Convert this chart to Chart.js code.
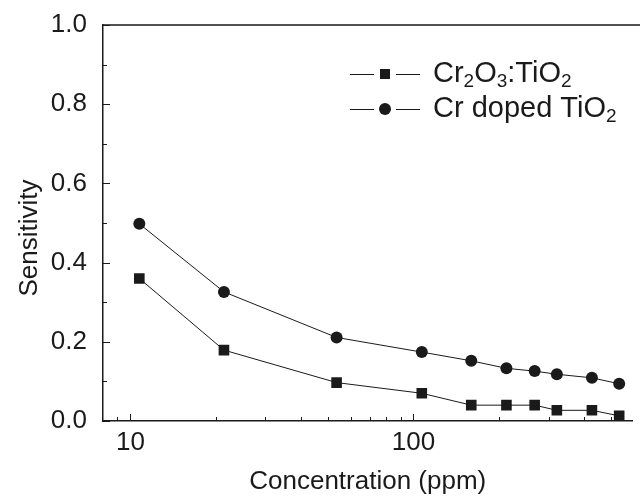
<!DOCTYPE html>
<html>
<head>
<meta charset="utf-8">
<script src="https://cdn.jsdelivr.net/npm/chart.js@4.4.1/dist/chart.umd.min.js"></script>
<style>
  html, body { margin: 0; padding: 0; background: #fff; }
  #wrap { width: 640px; height: 501px; position: relative; }
</style>
</head>
<body>
<div id="wrap"><canvas id="myChart" width="640" height="501"></canvas></div>
<script>
// concentrations (ppm), as placed on the plot
const concentration = [10.75, 21.4, 53.5, 107, 160, 213, 268, 321, 427, 533];
// sensitivity values
const cr2o3Tio2 = [0.360, 0.179, 0.097, 0.070, 0.040, 0.040, 0.040, 0.027, 0.027, 0.013];
const crDopedTio2 = [0.498, 0.326, 0.211, 0.174, 0.152, 0.133, 0.126, 0.118, 0.109, 0.094];
const xTickLabels = [10, 100];
const xMinorTicks = [9, 20, 30, 40, 50, 60, 70, 80, 90, 200, 300, 400, 500];
const yTickLabels = [0, 0.2, 0.4, 0.6, 0.8, 1.0];
const yMinorTicks = [0.1, 0.3, 0.5, 0.7, 0.9];

const FONT = "'Liberation Sans', Arial, Helvetica, sans-serif";
const INK = "#1a1a1a";

// inward ticks, top frame line and the y title
const frameTicks = {
    id: "frameTicks",
    afterDraw(chart) {
        const ctx = chart.ctx;
        const a = chart.chartArea;
        const xs = chart.scales.x, ys = chart.scales.y;
        ctx.save();
        ctx.strokeStyle = INK;
        ctx.lineWidth = 1.5;
        ctx.beginPath();
        ctx.moveTo(a.left, a.top);
        ctx.lineTo(chart.width, a.top);
        ctx.stroke();
        ctx.lineWidth = 1;
        const tick = (x1, y1, x2, y2) => { ctx.beginPath(); ctx.moveTo(x1, y1); ctx.lineTo(x2, y2); ctx.stroke(); };
        xTickLabels.forEach(v => { const p = Math.round(xs.getPixelForValue(v)) + 0.5; tick(p, a.bottom, p, a.bottom - 7); });
        xMinorTicks.forEach(v => { const p = Math.round(xs.getPixelForValue(v)) + 0.5; tick(p, a.bottom, p, a.bottom - 4); });
        yTickLabels.forEach(v => { const p = Math.round(ys.getPixelForValue(v)) + 0.5; tick(a.left, p, a.left + 7, p); });
        yMinorTicks.forEach(v => { const p = Math.round(ys.getPixelForValue(v)) + 0.5; tick(a.left, p, a.left + 4, p); });

        // y axis title, a bit below the middle like the original
        ctx.translate(30, 238);
        ctx.rotate(-Math.PI / 2);
        ctx.fillStyle = INK;
        ctx.font = "26px " + FONT;
        ctx.textAlign = "center";
        ctx.textBaseline = "middle";
        ctx.fillText("Sensitivity", 0, 0);
        ctx.restore();
    }
};

// legend with subscripts in the labels
const subLegend = {
    id: "subLegend",
    afterDraw(chart) {
        const ctx = chart.ctx;
        const rows = [
            {y: 74, marker: "rect", parts: [["Cr", 0], ["2", 1], ["O", 0], ["3", 1], [":TiO", 0], ["2", 1]]},
            {y: 109, marker: "circle", parts: [["Cr doped TiO", 0], ["2", 1]]}
        ];
        const size = 29, subSize = 19;
        ctx.save();
        rows.forEach(r => {
            ctx.strokeStyle = INK;
            ctx.lineWidth = 1;
            ctx.beginPath();
            ctx.moveTo(350, r.y + 0.5); ctx.lineTo(374, r.y + 0.5);
            ctx.moveTo(396, r.y + 0.5); ctx.lineTo(420, r.y + 0.5);
            ctx.stroke();
            ctx.fillStyle = INK;
            if (r.marker === "rect") {
                ctx.fillRect(380, r.y - 5, 10, 10);
            } else {
                ctx.beginPath(); ctx.arc(385, r.y, 6, 0, Math.PI * 2); ctx.fill();
            }
            let x = 433;
            ctx.textBaseline = "middle";
            r.parts.forEach(([t, sub]) => {
                ctx.font = (sub ? subSize : size) + "px " + FONT;
                ctx.fillText(t, x, sub ? r.y + 8 : r.y);
                x += ctx.measureText(t).width;
            });
        });
        ctx.restore();
    }
};

new Chart(document.getElementById("myChart").getContext("2d"), {
    type: "line",
    data: {
        datasets: [
            {
                label: "Cr2O3:TiO2",
                data: concentration.map((c, i) => ({x: c, y: cr2o3Tio2[i]})),
                borderColor: INK, backgroundColor: INK, borderWidth: 1,
                pointStyle: "rect", pointRadius: 7.5, pointBorderWidth: 0,
                tension: 0
            },
            {
                label: "Cr doped TiO2",
                data: concentration.map((c, i) => ({x: c, y: crDopedTio2[i]})),
                borderColor: INK, backgroundColor: INK, borderWidth: 1,
                pointStyle: "circle", pointRadius: 6, pointBorderWidth: 0,
                tension: 0
            }
        ]
    },
    options: {
        responsive: false,
        animation: false,
        layout: {padding: {top: 25, right: -7, left: 0, bottom: 0}},
        plugins: {legend: {display: false}, tooltip: {enabled: false}},
        scales: {
            x: {
                type: "logarithmic",
                min: 8, max: 594,
                afterBuildTicks: s => { s.ticks = xTickLabels.map(v => ({value: v})); },
                afterFit: s => { s.height = 80; s.paddingRight = 0; s.paddingLeft = 0; s.paddingTop = 0; s.paddingBottom = 0; },
                grid: {display: false, drawTicks: false},
                border: {display: true, color: INK, width: 1.5},
                ticks: {
                    font: {size: 26, family: FONT}, color: INK, padding: 6,
                    maxRotation: 0, autoSkip: false,
                    callback: v => String(v)
                },
                title: {display: true, text: "Concentration (ppm)", font: {size: 26, family: FONT}, color: INK, padding: {top: 6}}
            },
            y: {
                min: 0, max: 1,
                afterBuildTicks: s => { s.ticks = yTickLabels.map(v => ({value: v})); },
                afterFit: s => { s.width = 103; s.paddingTop = 0; s.paddingBottom = 0; s.paddingLeft = 0; s.paddingRight = 0; },
                grid: {display: false, drawTicks: false},
                border: {display: true, color: INK, width: 1.5},
                ticks: {
                    font: {size: 26, family: FONT}, color: INK, padding: 16,
                    callback: v => Number(v).toFixed(1)
                },
                title: {display: false}
            }
        }
    },
    plugins: [frameTicks, subLegend]
});
</script>
</body>
</html>
